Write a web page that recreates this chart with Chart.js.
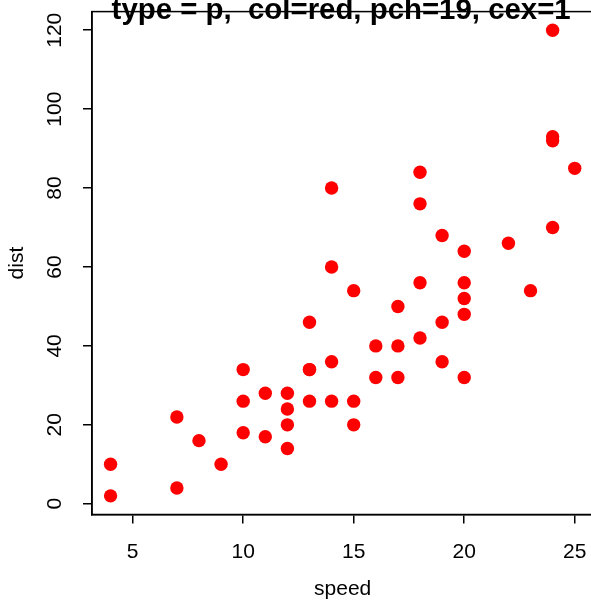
<!DOCTYPE html>
<html>
<head>
<meta charset="utf-8">
<script src="https://cdn.jsdelivr.net/npm/chart.js@4.4.1/dist/chart.umd.min.js"></script>
<style>
  html, body { margin: 0; padding: 0; background: #fff; overflow: hidden; }
  #wrap { width: 591px; height: 609px; overflow: hidden; }
</style>
</head>
<body>
<div id="wrap"><canvas id="myChart" width="600" height="609"></canvas></div>
<script>
// cars 데이터
const speed = [4, 4, 7, 7, 8, 9, 10, 10, 10, 11, 11, 12, 12, 12, 12, 13, 13, 13, 13, 14, 14, 14, 14, 15, 15, 15, 16, 16, 17, 17, 17, 18, 18, 18, 18, 19, 19, 19, 20, 20, 20, 20, 20, 22, 23, 24, 24, 24, 24, 25];
const dist = [2, 10, 4, 22, 16, 10, 18, 26, 34, 17, 28, 14, 20, 24, 28, 26, 34, 34, 46, 26, 36, 60, 80, 20, 26, 54, 32, 40, 32, 40, 50, 42, 56, 76, 84, 36, 46, 68, 32, 48, 52, 56, 64, 66, 54, 70, 92, 93, 120, 85];
const xTicks = [5, 10, 15, 20, 25];
const yTicks = [0, 20, 40, 60, 80, 100, 120];
const mainTitle = "type = p,  col=red, pch=19, cex=1";
const xTitle = "speed";
const yTitle = "dist";

const points = speed.map((s, i) => ({ x: s, y: dist[i] }));

const FONT = "'Liberation Sans', Arial, Helvetica, sans-serif";

// 제목 + 박스
const boxPlugin = {
    id: 'boxPlugin',
    afterDatasetsDraw(chart) {
        const { ctx, chartArea } = chart;
        ctx.save();
        ctx.font = "bold 29.4px " + FONT;
        ctx.fillStyle = '#000';
        ctx.textAlign = 'center';
        ctx.textBaseline = 'alphabetic';
        ctx.fillText(mainTitle, (chartArea.left + chartArea.right) / 2 - 1.5, 19);
        ctx.restore();
    },
    afterDraw(chart) {
        const { ctx, chartArea } = chart;
        ctx.save();
        ctx.strokeStyle = '#000';
        ctx.lineWidth = 1.5;
        ctx.strokeRect(chartArea.left, chartArea.top, chartArea.right - chartArea.left, chartArea.bottom - chartArea.top);
        ctx.restore();
    }
};

const ctx = document.getElementById('myChart').getContext('2d');
new Chart(ctx, {
    type: 'scatter',
    data: {
        datasets: [{
            data: points,
            backgroundColor: '#ff0000',
            borderWidth: 0,
            pointRadius: 6.7,
            pointHoverRadius: 6.7
        }]
    },
    options: {
        responsive: false,
        animation: false,
        layout: { padding: { top: 11.6, right: 5, left: 0, bottom: 0 } },
        plugins: {
            legend: { display: false },
            tooltip: { enabled: false }
        },
        scales: {
            x: {
                type: 'linear',
                min: 3.16,
                max: 25.84,
                afterBuildTicks: axis => { axis.ticks = xTicks.map(v => ({ value: v })); },
                afterFit: axis => {
                    axis.height = 94.5;
                    axis.paddingLeft = 0;
                    axis.paddingRight = 0;
                },
                grid: { drawOnChartArea: false, drawTicks: true, tickLength: 9, color: '#000', lineWidth: 1.5 },
                border: { display: true, color: '#000', width: 1.5 },
                ticks: { color: '#000', font: { family: FONT, size: 21 }, padding: 16, maxRotation: 0 },
                title: { display: true, text: xTitle, color: '#000', font: { family: FONT, size: 21 }, padding: { top: 0, bottom: 7 } }
            },
            y: {
                type: 'linear',
                min: -2.72,
                max: 124.72,
                afterBuildTicks: axis => { axis.ticks = yTicks.map(v => ({ value: v })); },
                afterFit: axis => {
                    axis.width = 92;
                    axis.paddingTop = 0;
                    axis.paddingBottom = 0;
                },
                grid: { drawOnChartArea: false, drawTicks: true, tickLength: 9, color: '#000', lineWidth: 1.5 },
                border: { display: true, color: '#000', width: 1.5 },
                ticks: { color: '#000', font: { family: FONT, size: 21 }, padding: 10.5, minRotation: 90, maxRotation: 90, crossAlign: 'center' },
                title: { display: true, text: yTitle, color: '#000', font: { family: FONT, size: 21 }, padding: { top: 5, bottom: 0 } }
            }
        }
    },
    plugins: [boxPlugin]
});
</script>
</body>
</html>
